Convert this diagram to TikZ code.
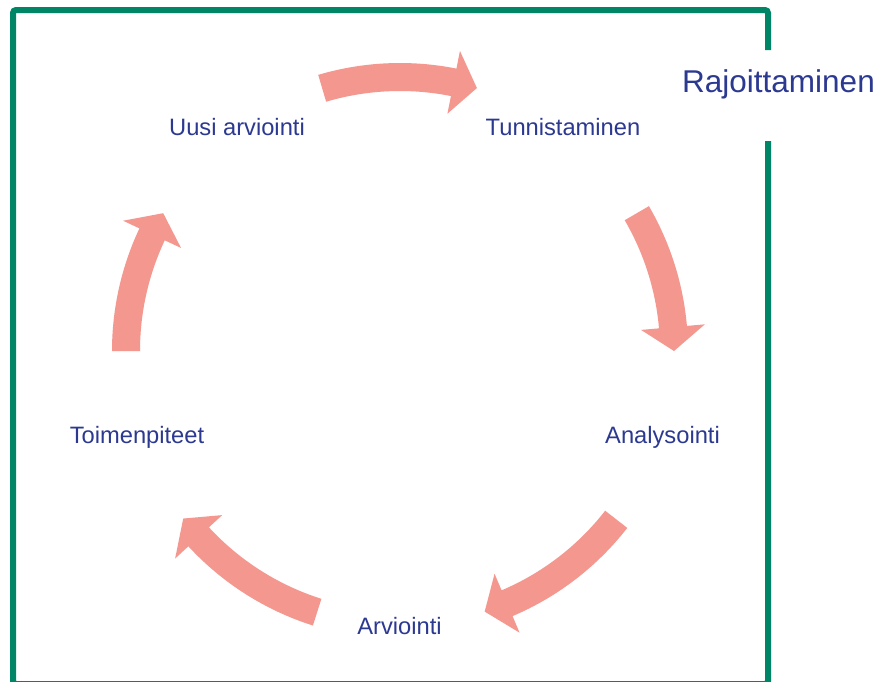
\documentclass[tikz,border=0pt]{standalone}
\usepackage{fontspec}
\setmainfont{Liberation Sans}
\definecolor{framegreen}{RGB}{0,133,102}
\definecolor{arrowpink}{RGB}{244,151,142}
\definecolor{labelblue}{RGB}{44,57,145}
\newcommand\cycarrow[2]{%
  \pgfmathsetmacro\cycbase{#2+5}%
  \fill[arrowpink] (#1:288pt) arc[start angle=#1, end angle=\cycbase, radius=288pt]
    -- (\cycbase:306pt) -- (#2:274pt) -- (\cycbase:242pt) -- (\cycbase:260pt)
    arc[start angle=\cycbase, end angle=#1, radius=260pt] -- cycle;}
\begin{document}
\begin{tikzpicture}[x=1pt,y=1pt,
  lbl/.style={text=labelblue, font=\fontsize{23.7}{26}\selectfont, inner sep=0pt, anchor=base},
  frameline/.style={draw=framegreen, line width=6pt, rounded corners=3pt}]
\useasboundingbox (0,0) rectangle (878,-681);
\fill[white] (0,0) rectangle (878,-681);
% frame
\draw[frameline] (768,-141) -- (768,-684) -- (13,-684) -- (13,-10) -- (768,-10) -- (768,-50);
% cycle arrows
\begin{scope}[shift={(400,-351)}]
  \cycarrow{106.5}{73.7}
  \cycarrow{30.2}{0}
  \cycarrow{-37.9}{-72}
  \cycarrow{-107.6}{-142.3}
  \cycarrow{180}{149.8}
\end{scope}
% labels
\node[lbl] (uusi) at (237,-135) {Uusi arviointi};
\node[lbl] (tunn) at (563,-135) {Tunnistaminen};
\node[lbl] (anal) at (662.5,-443) {Analysointi};
\node[lbl] (toim) at (137,-443) {Toimenpiteet};
\node[lbl] (arvi) at (399.5,-634) {Arviointi};
\node[lbl, font=\fontsize{31.5}{34}\selectfont] (rajo) at (778.5,-92) {Rajoittaminen};
\end{tikzpicture}
\end{document}
